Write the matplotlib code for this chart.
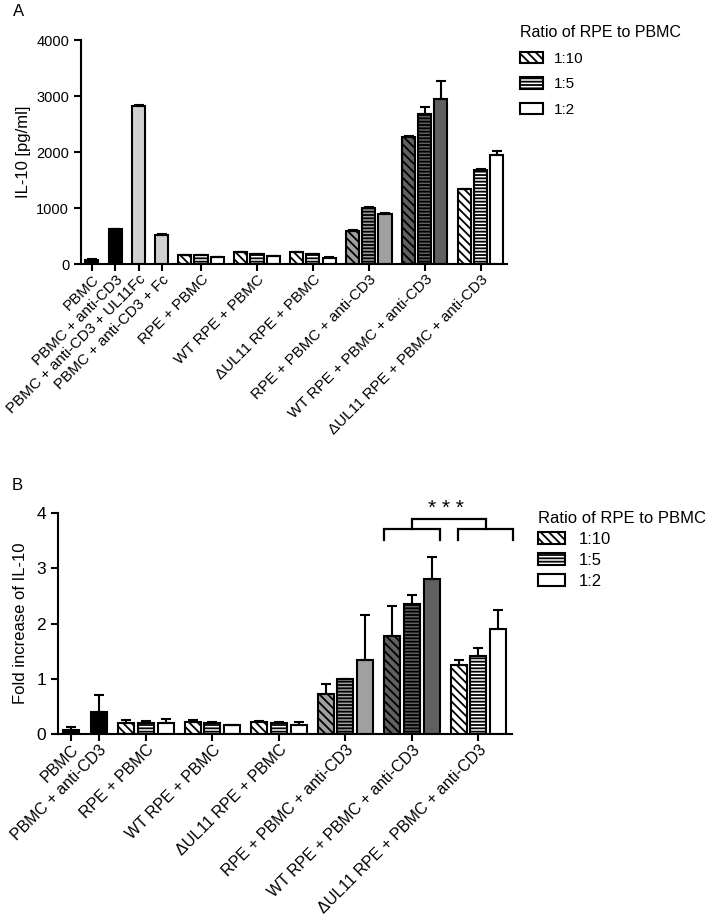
import matplotlib
matplotlib.use("Agg")
import matplotlib.pyplot as plt
from matplotlib.patches import Patch
import numpy as np

plt.rcParams['font.family'] = ['Liberation Sans', 'DejaVu Sans']
plt.rcParams['hatch.linewidth'] = 1.3

# ---------------- Data ----------------
ratios = ["1:10", "1:5", "1:2"]

# Panel A: single bars
a_single_labels = ["PBMC", "PBMC + anti-CD3", "PBMC + anti-CD3 + UL11Fc", "PBMC + anti-CD3 + Fc"]
a_single_vals = [80, 620, 2830, 520]
a_single_errs = [5, 15, 10, 10]
a_single_colors = ["black", "black", "#d0d0d0", "#d0d0d0"]

# Panel A: grouped bars (rows = groups, cols = ratios 1:10, 1:5, 1:2)
group_labels = ["RPE + PBMC", "WT RPE + PBMC", "\u0394UL11 RPE + PBMC",
                "RPE + PBMC + anti-CD3", "WT RPE + PBMC + anti-CD3",
                "\u0394UL11 RPE + PBMC + anti-CD3"]
a_group_vals = [[160, 155, 130],
                [220, 180, 140],
                [210, 175, 115],
                [600, 1010, 900],
                [2280, 2690, 2950],
                [1340, 1690, 1955]]
a_group_errs = [[5, 5, 5],
                [5, 5, 5],
                [5, 5, 5],
                [5, 15, 15],
                [10, 125, 320],
                [5, 5, 75]]
group_colors = ["white", "white", "white", "#a0a0a0", "#606060", "white"]

# Panel B
b_single_labels = ["PBMC", "PBMC + anti-CD3"]
b_single_vals = [0.07, 0.39]
b_single_errs = [0.05, 0.32]
b_single_colors = ["black", "black"]
b_group_vals = [[0.20, 0.20, 0.20],
                [0.21, 0.19, 0.16],
                [0.21, 0.19, 0.17],
                [0.72, 1.00, 1.34],
                [1.77, 2.35, 2.81],
                [1.25, 1.42, 1.90]]
b_group_errs = [[0.06, 0.03, 0.07],
                [0.04, 0.03, 0.01],
                [0.02, 0.02, 0.04],
                [0.18, 0.0, 0.82],
                [0.55, 0.17, 0.40],
                [0.10, 0.13, 0.34]]

hatches = ["\\\\\\\\", "-----", ""]

fig = plt.figure(figsize=(7.1, 9.17), dpi=100)


def draw_panel(ax, single_vals, single_errs, single_colors, single_labels,
               group_vals, group_errs, group_start, group_step, offset, width,
               capsize):
    n_single = len(single_vals)
    xs = np.arange(n_single)
    ekw = dict(elinewidth=1.5, capthick=1.5, ecolor="black")
    for x, v, e, c in zip(xs, single_vals, single_errs, single_colors):
        ax.bar(x, v, width=width, color=c, edgecolor="black", linewidth=1.5,
               yerr=[[0], [e]], capsize=capsize, error_kw=ekw, zorder=2)
    centers = group_start + group_step * np.arange(len(group_vals))
    for gi, (vals, errs) in enumerate(zip(group_vals, group_errs)):
        for ri in range(3):
            x = centers[gi] + (ri - 1) * offset
            ax.bar(x, vals[ri], width=width, color=group_colors[gi],
                   edgecolor="black", linewidth=1.5, hatch=hatches[ri],
                   yerr=[[0], [errs[ri]]], capsize=capsize, error_kw=ekw,
                   zorder=2)
    ticks = list(xs) + list(centers)
    ax.set_xticks(ticks)
    ax.set_xticklabels(list(single_labels) + group_labels, rotation=45,
                       ha="right", va="top", rotation_mode="anchor")
    for s in ["top", "right"]:
        ax.spines[s].set_visible(False)
    for s in ["left", "bottom"]:
        ax.spines[s].set_linewidth(1.5)
    ax.tick_params(axis="both", width=1.5, length=5, direction="out")
    ax.tick_params(axis="x", pad=1)
    return centers


# ---------------- Panel A ----------------
axA = fig.add_axes([0.114, 0.712, 0.600, 0.244])
draw_panel(axA, a_single_vals, a_single_errs, a_single_colors, a_single_labels,
           a_group_vals, a_group_errs, 4.68, 2.4, 0.69, 0.56, 3.5)
axA.set_xlim(-0.47, 17.8)
axA.set_ylim(0, 4000)
axA.set_yticks([0, 1000, 2000, 3000, 4000])
axA.tick_params(axis="y", labelsize=10.5)
axA.tick_params(axis="x", labelsize=10.9)
axA.set_ylabel("IL-10 [pg/ml]", fontsize=12, labelpad=4)

# ---------------- Panel B ----------------
axB = fig.add_axes([0.0817, 0.1996, 0.639, 0.2406])
centersB = draw_panel(axB, b_single_vals, b_single_errs, b_single_colors,
                      b_single_labels, b_group_vals, b_group_errs,
                      2.7, 2.4, 0.71, 0.58, 3.8)
axB.set_xlim(-0.47, 15.9)
axB.set_ylim(0, 4)
axB.set_yticks([0, 1, 2, 3, 4])
axB.tick_params(axis="y", labelsize=12.5)
axB.tick_params(axis="x", labelsize=11.5)
axB.set_ylabel("Fold increase of IL-10", fontsize=12, labelpad=6)

# Significance brackets (panel B)
c_wt, c_dl = centersB[4], centersB[5]
lw = 1.6
b1 = (c_wt - 1.0, c_wt + 1.0)
b2 = (c_dl - 0.72, c_dl + 1.23)
for l, r in (b1, b2):
    axB.plot([l, l, r, r], [3.51, 3.71, 3.71, 3.51], color="black", lw=lw,
             clip_on=False, solid_joinstyle="miter")
m1 = (b1[0] + b1[1]) / 2
m2 = (b2[0] + b2[1]) / 2
axB.plot([m1, m1, m2, m2], [3.71, 3.9, 3.9, 3.71], color="black", lw=lw,
         clip_on=False, solid_joinstyle="miter")
axB.text((m1 + m2) / 2 - 0.1, 4.08, "* * *", ha="center", va="center",
         fontsize=15, clip_on=False)

# Legends
handles = [Patch(facecolor="white", edgecolor="black", linewidth=1.5, hatch=h)
           for h in hatches]
legA = axA.legend(handles, ratios, title="Ratio of RPE to PBMC",
                  loc="upper left", bbox_to_anchor=(0.718, 0.984),
                  bbox_transform=fig.transFigure, frameon=False,
                  fontsize=11, title_fontsize=11.5, handlelength=1.45,
                  handleheight=0.8, handletextpad=0.75, labelspacing=0.74,
                  alignment="left", borderpad=0.2)
legB = axB.legend(handles, ratios, title="Ratio of RPE to PBMC",
                  loc="upper left", bbox_to_anchor=(0.742, 0.4555),
                  bbox_transform=fig.transFigure, frameon=False,
                  fontsize=12, title_fontsize=12, handlelength=1.6,
                  handleheight=0.75, handletextpad=0.8, labelspacing=0.36,
                  alignment="left", borderpad=0.2)

fig.text(0.018, 0.987, "A", fontsize=12, ha="left", va="center")
fig.text(0.017, 0.471, "B", fontsize=12, ha="left", va="center")

fig.savefig("out.png", dpi=100)
